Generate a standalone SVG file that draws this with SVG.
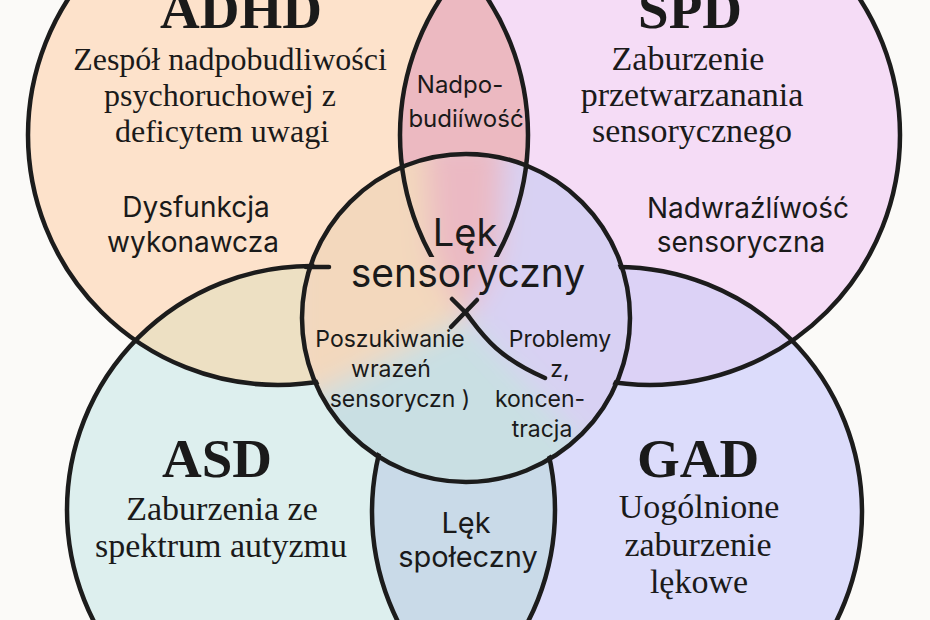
<svg xmlns="http://www.w3.org/2000/svg" width="930" height="620" viewBox="0 0 930 620">
  <style>
    .ttl { font-family: "Liberation Serif", serif; font-weight: bold; font-size: 55px; fill: #1a1a1a; text-anchor: middle; }
    .sub { font-family: "Liberation Serif", serif; font-size: 34px; fill: #1a1a1a; text-anchor: middle; }
    .sub2 { font-family: "Liberation Serif", serif; font-size: 32px; fill: #1a1a1a; text-anchor: middle; }
    .lbl { font-family: Inter, "Liberation Sans", sans-serif; fill: #1a1a1a; text-anchor: middle; }
    .out { fill: none; stroke: #1c1c1c; stroke-width: 4.5; stroke-linecap: round; }
  </style>
  <defs>
    <clipPath id="cADHD"><circle cx="278" cy="135" r="250"/></clipPath>
    <clipPath id="cSPD"><circle cx="650" cy="135" r="250"/></clipPath>
    <clipPath id="cASD"><circle cx="311" cy="510" r="244"/></clipPath>
    <clipPath id="cCenter"><circle cx="466" cy="318" r="164"/></clipPath>
    <filter id="soft" filterUnits="userSpaceOnUse" x="250" y="100" width="430" height="430">
      <feGaussianBlur stdDeviation="14"/>
    </filter>
    <mask id="mOut" maskUnits="userSpaceOnUse" x="0" y="0" width="930" height="620">
      <rect width="930" height="620" fill="#fff"/>
      <circle cx="466" cy="318" r="161" fill="#000"/>
      <rect x="395" y="140" width="140" height="117" fill="#fff"/>
    </mask>
  </defs>

  <rect width="930" height="620" fill="#fbfaf8"/>

  <g id="node-adhd">
    <circle cx="278" cy="135" r="250" fill="#fde2cb"/>
    <text class="ttl" x="241" y="28">ADHD</text>
    <text class="sub2" x="230" y="70">Zespół nadpobudliwości</text>
    <text class="sub2" x="220" y="106">psychoruchowej z</text>
    <text class="sub2" x="222" y="142">deficytem uwagi</text>
    <text class="lbl" font-size="28" x="196" y="217">Dysfunkcja</text>
    <text class="lbl" font-size="28" x="193" y="252">wykonawcza</text>
  </g>

  <g id="node-spd">
    <circle cx="650" cy="135" r="250" fill="#f5dcf6"/>
    <text class="ttl" x="690" y="28">SPD</text>
    <text class="sub" x="688" y="70">Zaburzenie</text>
    <text class="sub" x="692" y="106">przetwarzanania</text>
    <text class="sub" x="692" y="142">sensorycznego</text>
    <text class="lbl" font-size="28" x="748" y="218">Nadwraźlíwość</text>
    <text class="lbl" font-size="28" x="741" y="252">sensoryczna</text>
  </g>

  <g id="node-asd">
    <circle cx="311" cy="510" r="244" fill="#ddefee"/>
    <text class="ttl" x="217" y="477">ASD</text>
    <text class="sub" x="222" y="520">Zaburzenia ze</text>
    <text class="sub" x="221" y="557">spektrum autyzmu</text>
  </g>

  <g id="node-gad">
    <circle cx="617" cy="512" r="245" fill="#dcdcfb"/>
    <text class="ttl" x="698" y="477">GAD</text>
    <text class="sub" x="699" y="518">Uogólnione</text>
    <text class="sub" x="698" y="556">zaburzenie</text>
    <text class="sub" x="699" y="593">lękowe</text>
  </g>

  <g id="overlap-adhd-spd">
    <circle cx="650" cy="135" r="250" fill="#ecb9c1" clip-path="url(#cADHD)"/>
    <text class="lbl" font-size="24" x="460" y="93">Nadpo-</text>
    <text class="lbl" font-size="24" x="466" y="127">budiíwość</text>
  </g>

  <g id="overlap-adhd-asd">
    <circle cx="311" cy="510" r="244" fill="#ede0c3" clip-path="url(#cADHD)"/>
  </g>

  <g id="overlap-spd-gad">
    <circle cx="617" cy="512" r="245" fill="#dcd2f6" clip-path="url(#cSPD)"/>
  </g>

  <g id="overlap-asd-gad">
    <circle cx="617" cy="512" r="245" fill="#c9dae8" clip-path="url(#cASD)"/>
    <text class="lbl" font-size="29" x="466" y="533">Lęk</text>
    <text class="lbl" font-size="29" x="468" y="567">społeczny</text>
  </g>

  <g id="node-center">
    <g clip-path="url(#cCenter)">
      <rect x="290" y="140" width="360" height="360" fill="#e2d6dc"/>
      <g filter="url(#soft)">
        <polygon points="466,318 432,257 425,140 290,140 290,400 318,394" fill="#f3d8bd"/>
        <polygon points="466,318 432,257 425,140 505,140 498,257" fill="#ebb9c3"/>
        <polygon points="466,318 498,257 505,140 650,140 650,440 600,462" fill="#d8d1f3"/>
        <polygon points="466,318 318,394 290,400 290,500 650,500 650,440 600,462" fill="#c9dfe3"/>
      </g>
    </g>
    <text class="lbl" font-size="38" x="465" y="246">Lęk</text>
    <text class="lbl" font-size="39" x="468" y="287">sensoryczny</text>
    <text class="lbl" font-size="23" x="390" y="347">Poszukiwanie</text>
    <text class="lbl" font-size="23" x="391" y="377">wrazeń</text>
    <text class="lbl" font-size="23" x="400" y="407">sensoryczn )</text>
    <text class="lbl" font-size="23" x="560" y="347">Problemy</text>
    <text class="lbl" font-size="23" x="560" y="377">z,</text>
    <text class="lbl" font-size="23" x="540" y="407">koncen-</text>
    <text class="lbl" font-size="23" x="542" y="437">tracja</text>
  </g>

  <g id="connectors">
    <g mask="url(#mOut)">
      <circle class="out" cx="278" cy="135" r="250"/>
      <circle class="out" cx="650" cy="135" r="250"/>
      <circle class="out" cx="311" cy="510" r="244"/>
      <circle class="out" cx="617" cy="512" r="245"/>
    </g>
    <path class="out" d="M306,267 L329,267"/>
    <circle class="out" cx="466" cy="318" r="164"/>
    <path class="out" d="M452,299 L466,313 C480,331 494,356 545,378"/>
    <path class="out" d="M477,300 L451,327"/>
  </g>
</svg>
